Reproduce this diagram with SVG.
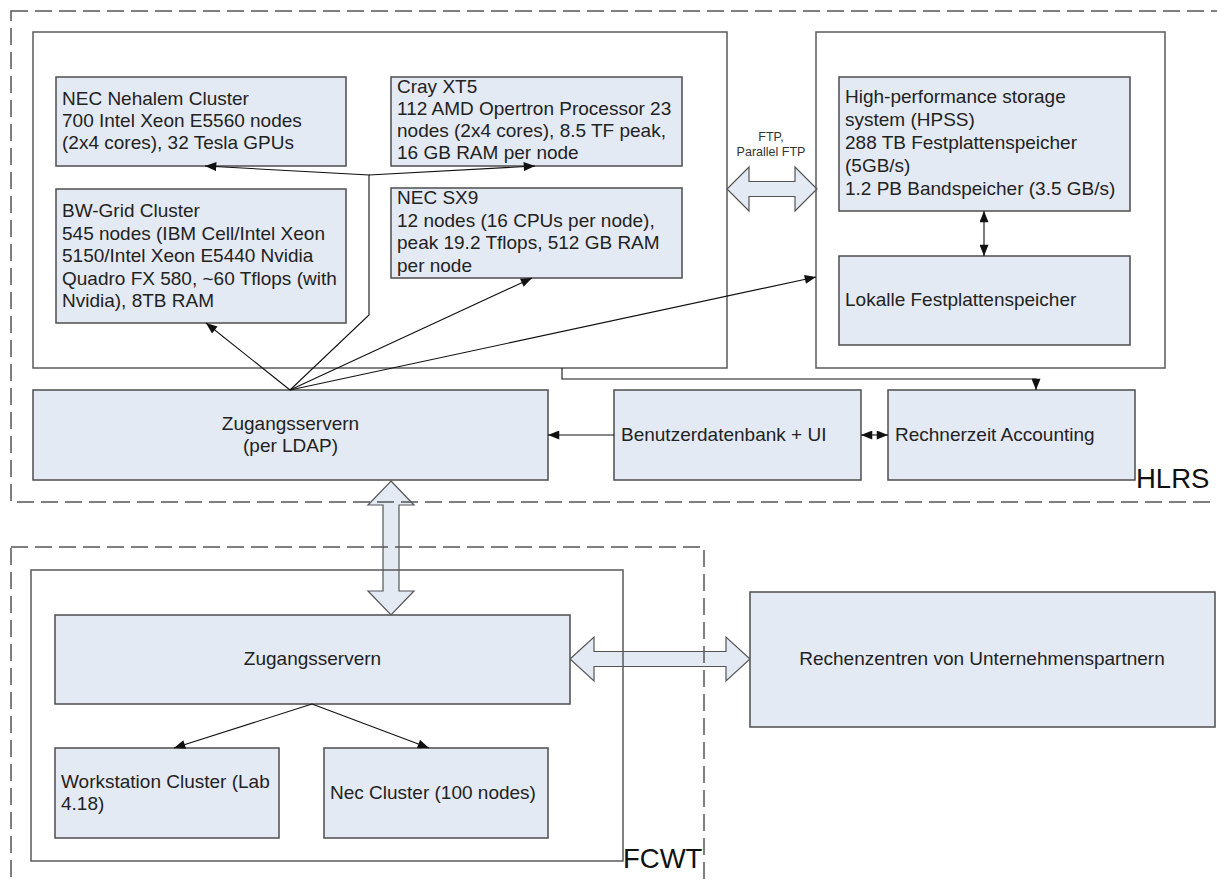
<svg xmlns="http://www.w3.org/2000/svg" width="1217" height="880" viewBox="0 0 1217 880">
<defs>
<style>
.node{fill:#E4EAF4;stroke:#4d4d4d;stroke-width:1.5}
.cont{fill:none;stroke:#5a5a5a;stroke-width:1.5}
.dash{fill:none;stroke:#555;stroke-width:1.5;stroke-dasharray:17 7}
.blk{fill:#E4EAF4;stroke:#555;stroke-width:1.2}
.t{font-family:"Liberation Sans",Arial,sans-serif;font-size:19px;fill:#222}
.big{font-family:"Liberation Sans",Arial,sans-serif;font-size:27.5px;fill:#111}
.sm{font-family:"Liberation Sans",Arial,sans-serif;font-size:12.5px;fill:#333}
.c{fill:none;stroke:#111;stroke-width:1.1}
</style>
<marker id="ah" viewBox="0 0 10 8" refX="10" refY="4" markerWidth="12" markerHeight="9" markerUnits="userSpaceOnUse" orient="auto-start-reverse">
<path d="M0,0 L10,4 L0,8 z" fill="#111"/>
</marker>
</defs>
<rect width="1217" height="880" fill="#fff"/>

<g id="block-arrows">
<polygon class="blk" points="727,189 749,167 749,181.5 795,181.5 795,167 817,189 795,211 795,196.5 749,196.5 749,211"/>
<polygon class="blk" points="391,481 414,505 399,505 399,591 414,591 391,615 368,591 383,591 383,505 368,505"/>
<polygon class="blk" points="570,659 594,637 594,651.5 726,651.5 726,637 750,659 726,681 726,666.5 594,666.5 594,681"/>
</g>

<g id="hlrs">
<rect class="dash" x="11" y="11" width="1230" height="491"/>
<text class="big" x="1136" y="488">HLRS</text>
</g>
<g id="fcwt">
<rect class="dash" x="11" y="547" width="693" height="360"/>
<text class="big" x="623" y="868">FCWT</text>
</g>

<g id="compute-container"><rect class="cont" x="33" y="32" width="694" height="336"/></g>
<g id="storage-container"><rect class="cont" x="816" y="32" width="349" height="336"/></g>
<g id="fcwt-container"><rect class="cont" x="31" y="570" width="592" height="291"/></g>

<g id="nehalem">
<rect class="node" x="56" y="77" width="290" height="89"/>
<text class="t" x="62" y="105">NEC Nehalem Cluster</text>
<text class="t" x="62" y="127">700 Intel Xeon E5560 nodes</text>
<text class="t" x="62" y="149">(2x4 cores), 32 Tesla GPUs</text>
</g>
<g id="bwgrid">
<rect class="node" x="56" y="189" width="290" height="134"/>
<text class="t" x="62" y="217">BW-Grid Cluster</text>
<text class="t" x="62" y="239.5">545 nodes (IBM Cell/Intel Xeon</text>
<text class="t" x="62" y="262">5150/Intel Xeon E5440 Nvidia</text>
<text class="t" x="62" y="284.5">Quadro FX 580, ~60 Tflops (with</text>
<text class="t" x="62" y="307">Nvidia), 8TB RAM</text>
</g>
<g id="cray">
<rect class="node" x="391" y="77" width="291" height="89"/>
<text class="t" x="397" y="93">Cray XT5</text>
<text class="t" x="397" y="115">112 AMD Opertron Processor 23</text>
<text class="t" x="397" y="137">nodes (2x4 cores), 8.5 TF peak,</text>
<text class="t" x="397" y="159">16 GB RAM per node</text>
</g>
<g id="sx9">
<rect class="node" x="391" y="188" width="291" height="90"/>
<text class="t" x="397" y="204">NEC SX9</text>
<text class="t" x="397" y="226.5">12 nodes (16 CPUs per node),</text>
<text class="t" x="397" y="249">peak 19.2 Tflops, 512 GB RAM</text>
<text class="t" x="397" y="271.5">per node</text>
</g>
<g id="ftp-label">
<text class="sm" x="771" y="141" text-anchor="middle">FTP,</text>
<text class="sm" x="771" y="156" text-anchor="middle">Parallel FTP</text>
</g>
<g id="hpss">
<rect class="node" x="839" y="77" width="291" height="134"/>
<text class="t" x="845" y="103">High-performance storage</text>
<text class="t" x="845" y="126">system (HPSS)</text>
<text class="t" x="845" y="149">288 TB Festplattenspeicher</text>
<text class="t" x="845" y="172">(5GB/s)</text>
<text class="t" x="845" y="195">1.2 PB Bandspeicher (3.5 GB/s)</text>
</g>
<g id="lokalle">
<rect class="node" x="839" y="256" width="291" height="89"/>
<text class="t" x="845" y="306">Lokalle Festplattenspeicher</text>
</g>
<g id="zugang-ldap">
<rect class="node" x="33" y="390" width="515" height="90"/>
<text class="t" x="290.5" y="430" text-anchor="middle">Zugangsservern</text>
<text class="t" x="290.5" y="452" text-anchor="middle">(per LDAP)</text>
</g>
<g id="benutzer">
<rect class="node" x="614" y="390" width="247" height="90"/>
<text class="t" x="621" y="441">Benutzerdatenbank + UI</text>
</g>
<g id="rechnerzeit">
<rect class="node" x="888" y="390" width="247" height="90"/>
<text class="t" x="895" y="441">Rechnerzeit Accounting</text>
</g>
<g id="zugang-fcwt">
<rect class="node" x="55" y="615" width="515" height="89"/>
<text class="t" x="312.5" y="665" text-anchor="middle">Zugangsservern</text>
</g>
<g id="workstation">
<rect class="node" x="55" y="748" width="224" height="90"/>
<text class="t" x="61" y="788">Workstation Cluster (Lab</text>
<text class="t" x="61" y="810">4.18)</text>
</g>
<g id="neccluster">
<rect class="node" x="324" y="748" width="224" height="90"/>
<text class="t" x="330" y="799">Nec Cluster (100 nodes)</text>
</g>
<g id="rechenzentren">
<rect class="node" x="750" y="592" width="465" height="135"/>
<text class="t" x="982" y="665" text-anchor="middle">Rechenzentren von Unternehmenspartnern</text>
</g>

<g id="connectors">
<polyline class="c" points="290,390 369,315 369,175 205,166" marker-end="url(#ah)"/>
<line class="c" x1="369" y1="175" x2="535" y2="166" marker-end="url(#ah)"/>
<line class="c" x1="290" y1="390" x2="206" y2="323" marker-end="url(#ah)"/>
<line class="c" x1="290" y1="390" x2="532" y2="278" marker-end="url(#ah)"/>
<line class="c" x1="290" y1="390" x2="816" y2="277" marker-end="url(#ah)"/>
<polyline class="c" points="562,368 562,379 1036,379 1036,390" marker-end="url(#ah)"/>
<line class="c" x1="614" y1="435" x2="548" y2="435" marker-end="url(#ah)"/>
<line class="c" x1="861" y1="435" x2="888" y2="435" marker-start="url(#ah)" marker-end="url(#ah)"/>
<line class="c" x1="984" y1="211" x2="984" y2="256" marker-start="url(#ah)" marker-end="url(#ah)"/>
<line class="c" x1="312" y1="704" x2="174" y2="748" marker-end="url(#ah)"/>
<line class="c" x1="312" y1="704" x2="429" y2="748" marker-end="url(#ah)"/>
</g>
</svg>
